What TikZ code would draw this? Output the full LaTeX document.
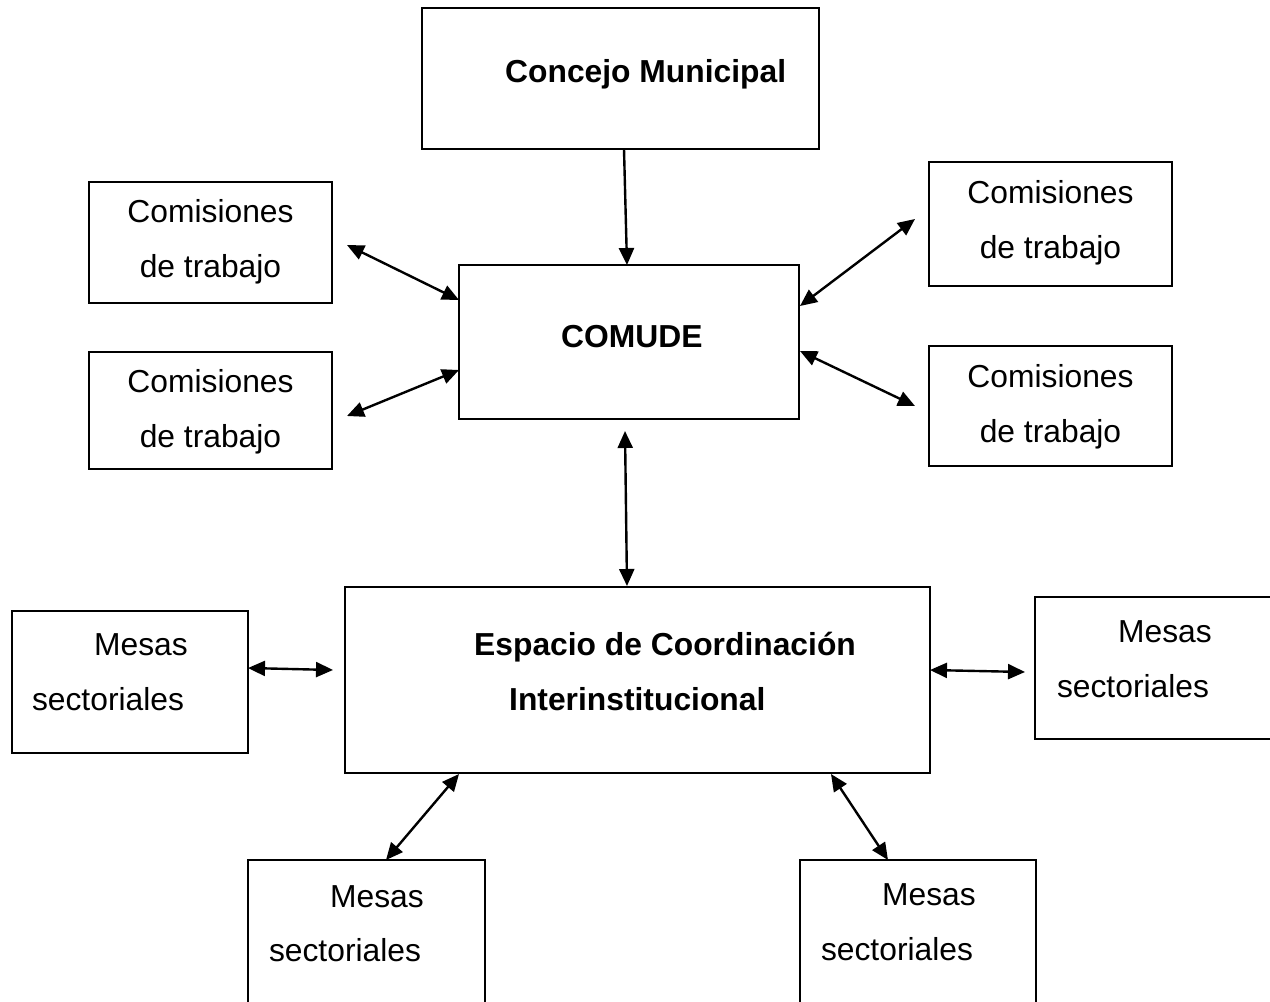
\documentclass[tikz,border=0pt]{standalone}
\usepackage{fontspec}
\setmainfont{Liberation Sans}
\usetikzlibrary{arrows.meta}
\begin{document}
\begin{tikzpicture}[x=1pt,y=-1pt,
  box/.style={draw=black,line width=2.4pt,rectangle,inner sep=0pt},
  txt/.style={anchor=base,inner sep=0pt,font=\fontsize{31.8}{38}\selectfont},
  btxt/.style={anchor=base west,inner sep=0pt,font=\fontsize{31.8}{38}\selectfont\bfseries},
  link/.style={line width=2.4pt,{Triangle[length=17pt,width=15pt]}-{Triangle[length=17pt,width=15pt]}},
  onelink/.style={line width=2.4pt,-{Triangle[length=17pt,width=15pt]}}]
\clip (0,0) rectangle (1270,1002);
\fill[white] (0,0) rectangle (1270,1002);
% boxes
\node[box,minimum width=397pt,minimum height=141pt] (concejo) at (620.5,78.5) {};
\node[box,minimum width=340pt,minimum height=154pt] (comude) at (629,342) {};
\node[box,minimum width=243pt,minimum height=121pt] (comLT) at (210.5,242.5) {};
\node[box,minimum width=243pt,minimum height=117pt] (comLB) at (210.5,410.5) {};
\node[box,minimum width=243pt,minimum height=124pt] (comRT) at (1050.5,224) {};
\node[box,minimum width=243pt,minimum height=120pt] (comRB) at (1050.5,406) {};
\node[box,minimum width=585pt,minimum height=186pt] (espacio) at (637.5,680) {};
\node[box,minimum width=236pt,minimum height=142pt] (mesL) at (130,682) {};
\node[box,minimum width=240pt,minimum height=142pt] (mesR) at (1155,668) {};
\node[box,minimum width=237pt,minimum height=150pt] (mesBL) at (366.5,935) {};
\node[box,minimum width=236pt,minimum height=150pt] (mesBR) at (918,935) {};
% texts
\node[btxt] (tconcejo) at (505,82) {Concejo Municipal};
\node[btxt] (tcomude) at (561,347) {COMUDE};
\node[txt] (tLT1) at (210.5,222) {Comisiones};
\node[txt] (tLT2) at (210.5,277) {de trabajo};
\node[txt] (tLB1) at (210.5,392) {Comisiones};
\node[txt] (tLB2) at (210.5,447) {de trabajo};
\node[txt] (tRT1) at (1050.5,203) {Comisiones};
\node[txt] (tRT2) at (1050.5,258) {de trabajo};
\node[txt] (tRB1) at (1050.5,387) {Comisiones};
\node[txt] (tRB2) at (1050.5,442) {de trabajo};
\node[btxt] (tesp1) at (474,655) {Espacio de Coordinación};
\node[btxt] (tesp2) at (509,710) {Interinstitucional};
\node[txt] (tmL1) at (141,655) {Mesas};
\node[txt] (tmL2) at (108,710) {sectoriales};
\node[txt] (tmR1) at (1165,642) {Mesas};
\node[txt] (tmR2) at (1133,697) {sectoriales};
\node[txt] (tmBL1) at (377,907) {Mesas};
\node[txt] (tmBL2) at (345,961) {sectoriales};
\node[txt] (tmBR1) at (929,905) {Mesas};
\node[txt] (tmBR2) at (897,960) {sectoriales};
% connector end points
\coordinate (c1a) at (624,149); \coordinate (c1b) at (627,265);
\coordinate (c2a) at (347,245); \coordinate (c2b) at (459,300);
\coordinate (c3a) at (347,416); \coordinate (c3b) at (459,370);
\coordinate (c4a) at (800,306); \coordinate (c4b) at (915,219);
\coordinate (c5a) at (800,351); \coordinate (c5b) at (915,406);
\coordinate (c6a) at (625,431); \coordinate (c6b) at (627,586);
\coordinate (c7a) at (248,668); \coordinate (c7b) at (333,670);
\coordinate (c8a) at (930,670); \coordinate (c8b) at (1025,672);
\coordinate (c9a) at (459,774); \coordinate (c9b) at (386,860);
\coordinate (c10a) at (831,774); \coordinate (c10b) at (888,860);
% connectors
\draw[onelink] (c1a) -- (c1b);
\draw[link] (c2a) -- (c2b);
\draw[link] (c3a) -- (c3b);
\draw[link] (c4a) -- (c4b);
\draw[link] (c5a) -- (c5b);
\draw[link] (c6a) -- (c6b);
\draw[link] (c7a) -- (c7b);
\draw[link] (c8a) -- (c8b);
\draw[link] (c9a) -- (c9b);
\draw[link] (c10a) -- (c10b);
\end{tikzpicture}
\end{document}
